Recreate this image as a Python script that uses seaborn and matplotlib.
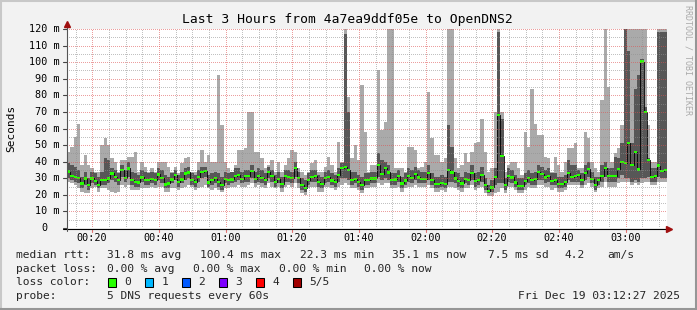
import numpy as np
import matplotlib
matplotlib.use("Agg")
import matplotlib.pyplot as plt
import seaborn as sns
from matplotlib.patches import Rectangle
from matplotlib.lines import Line2D
from matplotlib.transforms import blended_transform_factory

# ---------------- data (ms), one value per 60 s step, 00:12:27 .. 03:12:27 ----------------
start_minute = 12 + 27 / 60.0
step_minutes = 1.0

median_rtt = [
    34.0, 31.5, 30.9, 30.3, 26.9, 29.9, 25.9, 29.9, 28.5, 25.9, 28.9, 28.9, 29.9, 32.9, 30.9,
    28.9, 34.9, 30.3, 35.9, 28.9, 27.9, 27.5, 30.5, 28.9, 28.9, 29.5, 28.9, 32.3, 30.3, 26.3,
    26.9, 29.3, 31.9, 27.9, 29.3, 32.9, 33.5, 28.9, 27.9, 30.9, 33.9, 34.3, 27.5, 28.9, 30.3,
    27.9, 25.9, 29.5, 28.9, 29.3, 31.5, 31.9, 29.5, 31.5, 31.5, 34.3, 29.5, 31.5, 30.3, 28.9,
    33.9, 31.5, 27.9, 29.5, 26.5, 31.5, 30.9, 30.3, 36.3, 30.3, 25.9, 24.3, 28.9, 30.9, 31.5,
    27.9, 26.7, 30.3, 30.9, 28.7, 27.9, 31.9, 36.0, 36.6, 34.9, 29.1, 29.5, 27.9, 25.9, 28.9,
    28.9, 29.9, 29.9, 38.0, 32.7, 36.3, 33.5, 28.9, 29.3, 31.5, 26.9, 28.7, 31.5, 30.3, 32.5,
    30.5, 29.5, 29.5, 33.3, 28.9, 26.7, 26.7, 27.1, 26.5, 34.9, 33.5, 29.9, 28.3, 26.9, 29.5,
    28.9, 33.3, 28.3, 28.9, 31.9, 25.9, 22.3, 24.5, 30.9, 68.0, 43.6, 25.9, 31.5, 30.5, 27.5,
    25.5, 25.5, 28.5, 30.3, 28.9, 29.5, 33.9, 32.5, 30.5, 31.5, 28.5, 28.9, 26.7, 26.7, 27.9,
    33.3, 30.9, 31.5, 31.9, 28.9, 33.3, 35.5, 29.5, 25.9, 28.9, 31.5, 36.3, 31.5, 31.5, 31.5,
    35.5, 40.0, 39.0, 51.4, 38.0, 46.0, 35.3, 100.4, 70.1, 41.0, 30.9, 31.5, 37.6, 34.5, 35.1,
]

smoke_max = [
    46, 49, 55, 63, 38, 44, 38, 36, 34, 34, 50, 54, 50, 42, 40, 34, 41, 41, 43, 43,
    46, 34, 40, 37, 34, 36, 34, 40, 40, 40,
    37, 34, 37, 33, 39, 42, 43, 34, 34, 40, 47, 40, 44, 40, 40, 92, 62, 40, 36, 34,
    38, 47, 47, 48, 70, 70, 46, 46, 42, 36,
    38, 41, 34, 40, 34, 38, 42, 47, 46, 36, 34, 32, 34, 39, 41, 34, 34, 37, 43, 38,
    34, 52, 40, 120, 79, 42, 50, 41, 86, 58,
    34, 38, 38, 95, 59, 64, 120, 120, 36, 36, 36, 34, 49, 49, 47, 36, 37, 40, 82, 54,
    44, 44, 40, 42, 120, 120, 42, 36, 38, 45,
    40, 46, 51, 52, 66, 46, 34, 36, 70, 120, 70, 34, 38, 40, 40, 36, 32, 58, 49, 84,
    63, 56, 56, 43, 42, 34, 43, 38, 34, 40,
    48, 48, 51, 36, 36, 58, 54, 40, 36, 34, 77, 120, 85, 40, 45, 48, 62, 120, 120, 120,
    120, 120, 120, 120, 62, 40, 40, 120, 120, 120,
]

smoke_upper = [
    39, 38, 37, 35, 31, 34, 30, 34, 33, 31, 34, 42, 41, 36, 35, 33, 38, 35, 40, 34,
    33, 32, 35, 34, 33, 34, 33, 36, 35, 32,
    31, 33, 35, 32, 34, 36, 37, 33, 32, 35, 37, 37, 32, 33, 34, 33, 31, 34, 33, 34,
    36, 36, 34, 35, 35, 38, 34, 36, 35, 33,
    37, 35, 32, 34, 31, 35, 35, 34, 40, 34, 30, 29, 33, 35, 35, 32, 31, 34, 35, 33,
    32, 36, 39, 117, 70, 34, 34, 32, 31, 33,
    33, 34, 34, 45, 41, 40, 38, 33, 33, 35, 31, 33, 36, 35, 37, 35, 34, 34, 38, 33,
    31, 31, 32, 31, 62, 49, 34, 33, 31, 34,
    33, 38, 33, 34, 37, 30, 26, 29, 36, 118, 66, 30, 36, 35, 32, 30, 30, 33, 35, 33,
    34, 38, 37, 35, 36, 33, 33, 31, 31, 32,
    41, 38, 38, 35, 33, 38, 40, 34, 31, 31, 38, 40, 36, 36, 43, 42, 51, 120, 107, 51,
    84, 92, 102, 73, 42, 36, 36, 118, 118, 118,
]

smoke_lower = [
    30, 29, 28, 27, 24, 26, 23, 27, 26, 24, 26, 26, 27, 29, 28, 26, 31, 28, 31, 26,
    25, 25, 28, 26, 26, 27, 26, 29, 27, 24,
    24, 27, 29, 25, 27, 29, 30, 26, 25, 28, 30, 31, 25, 26, 27, 25, 23, 27, 26, 27,
    28, 29, 27, 28, 28, 30, 27, 28, 27, 26,
    30, 28, 25, 27, 24, 28, 28, 27, 31, 27, 23, 22, 26, 28, 28, 25, 24, 27, 28, 26,
    25, 28, 30, 30, 29, 26, 27, 25, 23, 26,
    26, 27, 27, 31, 29, 30, 29, 26, 26, 28, 24, 26, 28, 27, 29, 27, 27, 27, 29, 26,
    24, 24, 25, 24, 28, 28, 27, 25, 24, 27,
    26, 29, 25, 26, 28, 23, 21, 22, 26, 27, 27, 23, 28, 27, 25, 23, 23, 26, 27, 26,
    26, 29, 29, 27, 28, 26, 26, 24, 24, 25,
    29, 28, 28, 28, 26, 29, 31, 27, 23, 26, 28, 31, 28, 28, 28, 30, 32, 30, 30, 28,
    29, 28, 30, 30, 31, 28, 28, 31, 30, 30,
]

smoke_min = [
    28, 27, 26, 24, 22, 21, 21, 24, 25, 22, 24, 24, 23, 22, 21, 22, 26, 25, 26, 23,
    23, 23, 24, 24, 24, 25, 24, 25, 25, 22,
    22, 24, 24, 23, 24, 25, 26, 25, 23, 24, 25, 26, 24, 23, 24, 23, 22, 24, 24, 25,
    25, 26, 25, 25, 26, 27, 25, 26, 25, 24,
    27, 25, 24, 25, 22, 25, 26, 25, 27, 24, 21, 20, 24, 25, 25, 22, 22, 25, 25, 24,
    23, 25, 26, 27, 26, 24, 24, 23, 21, 24,
    24, 25, 25, 27, 26, 27, 27, 24, 24, 25, 22, 24, 25, 25, 26, 25, 25, 25, 26, 24,
    22, 22, 23, 22, 25, 25, 24, 23, 22, 24,
    24, 26, 23, 24, 25, 21, 19, 19, 21, 22, 24, 21, 25, 25, 23, 21, 21, 23, 25, 24,
    24, 26, 26, 25, 25, 23, 24, 22, 22, 23,
    26, 26, 26, 26, 24, 26, 27, 25, 22, 24, 25, 28, 25, 25, 25, 27, 28, 28, 28, 26,
    27, 26, 27, 28, 28, 26, 26, 28, 28, 28,
]

y_ticks = [0, 10, 20, 30, 40, 50, 60, 70, 80, 90, 100, 110, 120]
y_tick_labels = ["0", "10 m", "20 m", "30 m", "40 m", "50 m", "60 m", "70 m", "80 m",
                 "90 m", "100 m", "110 m", "120 m"]
x_ticks = [20, 40, 60, 80, 100, 120, 140, 160, 180]
x_tick_labels = ["00:20", "00:40", "01:00", "01:20", "01:40", "02:00", "02:20", "02:40", "03:00"]

title = "Last 3 Hours from 4a7ea9ddf05e to OpenDNS2"
row_median = ["median rtt:", "31.8 ms avg", "100.4 ms max", "22.3 ms min", "35.1 ms now",
              "7.5 ms sd", "4.2", "am/s"]
row_loss = ["packet loss:", "0.00 % avg", "0.00 % max", "0.00 % min", "0.00 % now"]
loss_labels = ["0", "1", "2", "3", "4", "5/5"]
loss_colors = ["#26ff00", "#00b8ff", "#0059ff", "#7e00ff", "#ff0000", "#a10000"]
probe_text = "5 DNS requests every 60s"
date_text = "Fri Dec 19 03:12:27 2025"

# ---------------- figure ----------------
W, H = 697, 310
sns.set_theme(style="white")
plt.rcParams["font.family"] = ["DejaVu Sans Mono", "DejaVu Sans"]

BG = "#f2f2f2"
fig = plt.figure(figsize=(W / 100, H / 100), dpi=100, facecolor=BG)

PL, PR, PT, PB = 67, 667, 29, 228


def fx(x):
    return x / W


def fy(y):
    return 1 - y / H


ax = fig.add_axes([fx(PL), fy(PB), (PR - PL) / W, (PB - PT) / H])
ax.set_facecolor("white")
for s in ax.spines.values():
    s.set_visible(False)

n = len(median_rtt)
edges = start_minute + np.arange(n + 1) * step_minutes


def ext(v):
    v = np.asarray(v, dtype=float)
    return np.append(v, v[-1])


ax.fill_between(edges, ext(smoke_min), ext(smoke_max), step="post",
                color="#aaaaaa", lw=0, zorder=1)
ax.fill_between(edges, ext(smoke_lower), ext(smoke_upper), step="post",
                color="#575757", lw=0, zorder=2)

med = ext(median_rtt)
sns.lineplot(x=edges, y=med, drawstyle="steps-post", color="black", lw=0.6,
             estimator=None, sort=False, ax=ax, zorder=3)
ax.fill_between(edges, med - 0.7, med + 0.7, step="post", color="#26ff00", lw=0, zorder=4)

ax.set_xlim(edges[0], edges[-1])
ax.set_ylim(0, 120)

# grid drawn over the data, rrdtool style (dotted, translucent)
for yv in range(5, 121, 5):
    c = "#de4f4f" if yv % 10 == 0 else "#8f8f8f"
    ax.axhline(yv, color=c, alpha=0.55, lw=0.72, ls=(0, (1, 2)), zorder=5, antialiased=False)
for xv in range(15, 192, 5):
    c = "#de4f4f" if xv % 20 == 0 else "#8f8f8f"
    ax.axvline(xv, color=c, alpha=0.55, lw=0.72, ls=(0, (1, 2)), zorder=5, antialiased=False)

ax.set_xticks([])
ax.set_yticks([])
ax.set_xlabel("")
ax.set_ylabel("")
if ax.get_legend():
    ax.get_legend().remove()

# axis lines and arrows
fig.add_artist(Line2D([fx(63), fx(669)], [fy(228.5), fy(228.5)], color="black", lw=0.8))
fig.add_artist(Line2D([fx(67), fx(67)], [fy(231), fy(25)], color="#555555", lw=0.8))
fig.add_artist(Line2D([fx(669)], [fy(228.5)], marker=">", markersize=4.5, color="#a01010", lw=0))
fig.add_artist(Line2D([fx(67)], [fy(24)], marker="^", markersize=4.5, color="#a01010", lw=0))

ytr = blended_transform_factory(fig.transFigure, ax.transData)
ytick_tr = blended_transform_factory(ax.transAxes, ax.transData)
for yv, lab in zip(y_ticks, y_tick_labels):
    ax.plot([-0.006, 0], [yv, yv], transform=ytick_tr, color="#444444", lw=0.8,
            clip_on=False, zorder=6)
    xr = 47.7 if lab == "0" else 59.8
    ax.text(fx(xr), yv, lab, transform=ytr, ha="right", va="center",
            fontsize=7.3, color="black")

xtr = blended_transform_factory(ax.transData, fig.transFigure)
for xv, lab in zip(x_ticks, x_tick_labels):
    ax.plot([xv, xv], [fy(228.5), fy(232)], transform=xtr, color="#e07070", lw=0.8,
            clip_on=False, zorder=6)
    ax.text(xv, fy(238), lab, transform=xtr, ha="center", va="center", fontsize=7.3,
            color="black")

# title, axis label, watermark
fig.text(fx(347.5), fy(19), title, ha="center", va="center", fontsize=9.4, color="black")
fig.text(fx(11), fy(128), "Seconds", ha="center", va="center", rotation=90,
         fontsize=8, color="black")
fig.text(fx(688), fy(60), "RRDTOOL / TOBI OETIKER", ha="center", va="center",
         rotation=270, fontsize=6, color="#aaaaaa")

# legend
LFS = 8.1
xs1 = [16, 107.3, 200, 300, 392.4, 487.6, 564.4, 607.6]
for x, t in zip(xs1, row_median):
    fig.text(fx(x), fy(255), t, ha="left", va="center", fontsize=LFS)
xs2 = [16, 107.3, 193.3, 279.3, 364.5]
for x, t in zip(xs2, row_loss):
    fig.text(fx(x), fy(268.5), t, ha="left", va="center", fontsize=LFS)
fig.text(fx(16), fy(282), "loss color:", ha="left", va="center", fontsize=LFS)
for i, (lab, col) in enumerate(zip(loss_labels, loss_colors)):
    bx = 108.3 + i * 37.0
    fig.add_artist(Rectangle((fx(bx), fy(287)), 7.5 / W, 9.5 / H, facecolor=col,
                             edgecolor="black", lw=0.75, transform=fig.transFigure))
    fig.text(fx(bx + 16), fy(282), lab, ha="left", va="center", fontsize=LFS)
fig.text(fx(16), fy(296), "probe:", ha="left", va="center", fontsize=LFS)
fig.text(fx(107.3), fy(296), probe_text, ha="left", va="center", fontsize=LFS)
fig.text(fx(680.5), fy(296), date_text, ha="right", va="center", fontsize=LFS)

# frame shading
fig.add_artist(Line2D([0, 1], [fy(0.8), fy(0.8)], color="#c8c8c8", lw=1.5))
fig.add_artist(Line2D([fx(0.8), fx(0.8)], [0, 1], color="#c8c8c8", lw=1.5))
fig.add_artist(Line2D([0, 1], [fy(309.2), fy(309.2)], color="#969696", lw=1.5))
fig.add_artist(Line2D([fx(696.2), fx(696.2)], [0, 1], color="#969696", lw=1.5))

fig.savefig("out.png", dpi=100, facecolor=BG)
